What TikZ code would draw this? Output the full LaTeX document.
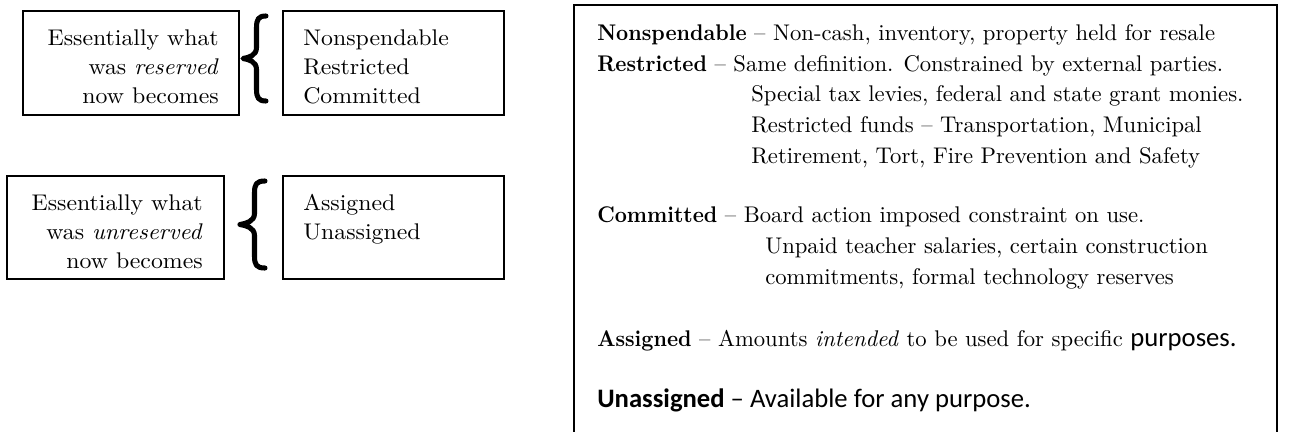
\documentclass[tikz,border=0pt]{standalone}
\usepackage{fontspec}
\newfontfamily\calibri{Carlito}
% book face for the definitions, slightly condensed bold for the terms
\newfontfamily\defreg{lmroman10-regular.otf}[ItalicFont=lmroman10-italic.otf]
\newfontfamily\defbold{lmroman10-bold.otf}[FakeStretch=0.93]
\newfontfamily\sidefont{lmroman10-regular.otf}[FakeStretch=1.05, ItalicFont=lmroman10-italic.otf]
\newcommand\bigtext{\defreg\fontsize{17}{23}\selectfont}
\newcommand\sidetext{\sidefont\fontsize{17}{21.75}\selectfont}
\newcommand\termname[1]{{\defbold #1}}
\newcommand\drawcurly[4]{% x of tip, x of ends, y top, y bottom
  \pgfmathsetmacro\cm{(#3+#4)/2}
  \pgfmathsetmacro\sx{(#1+#2)/2+2}
  \draw[bracestroke] (#2,#3) .. controls (\sx+2,#3) and (\sx,#3+3) .. (\sx,#3+12)
    -- (\sx,\cm-11) .. controls (\sx,\cm-3) and (#1+6,\cm-1) .. (#1,\cm)
    .. controls (#1+6,\cm+1) and (\sx,\cm+3) .. (\sx,\cm+11)
    -- (\sx,#4-12) .. controls (\sx,#4-3) and (\sx+2,#4) .. (#2,#4);
}
\begin{document}
\begin{tikzpicture}[x=0.75pt,y=-0.75pt,
  box/.style={draw, line width=1.5pt, inner sep=0pt},
  bracestroke/.style={line width=3.8pt, line cap=round, line join=round},
  sidelines/.style={inner sep=0pt, font=\sidetext},
  deflines/.style={inner sep=0pt, anchor=base west, font=\bigtext}]
\useasboundingbox (0,0) rectangle (1289,432);

% left column: old categories and the new ones they turn into
\node[box, minimum width=216*0.75pt, minimum height=104*0.75pt] (oldres) at (131,63) {};
\node[box, minimum width=221*0.75pt, minimum height=104*0.75pt] (newres) at (393.5,63) {};
\node[box, minimum width=217*0.75pt, minimum height=103*0.75pt] (oldunres) at (115.5,227.5) {};
\node[box, minimum width=221*0.75pt, minimum height=103*0.75pt] (newunres) at (393.5,227.5) {};

% multi-line texts are placed by the baseline of their last line
\node[sidelines, anchor=base east, align=right] (oldrestext) at (219,103)
  {Essentially what\\was \textit{reserved}\\now becomes};
\node[sidelines, anchor=base west, align=left] (newrestext) at (303,103)
  {Nonspendable\\Restricted\\Committed};
\node[sidelines, anchor=base east, align=right] (oldunrestext) at (203,268)
  {Essentially what\\was \textit{unreserved}\\now becomes};
\node[sidelines, anchor=base west, align=left] (newunrestext) at (303,239)
  {Assigned\\Unassigned};

\drawcurly{243}{266}{16}{101}
\drawcurly{240}{265}{181}{268}

% definitions panel, open at the bottom
\draw[line width=1.5pt] (574,445) -- (574,5) -- (1277,5) -- (1277,445);

\node[deflines] (d1) at (597,40) {\termname{Nonspendable} – Non-cash, inventory, property held for resale};
\node[deflines] (d2) at (597,71) {\termname{Restricted} – Same definition. Constrained by external parties.};
\node[deflines] (d3) at (751,101) {Special tax levies, federal and state grant monies.};
\node[deflines] (d4) at (751,132) {Restricted funds – Transportation, Municipal};
\node[deflines] (d5) at (751,163) {Retirement, Tort, Fire Prevention and Safety};
\node[deflines] (d6) at (597,222) {\termname{Committed} – Board action imposed constraint on use.};
\node[deflines] (d7) at (765,253) {Unpaid teacher salaries, certain construction};
\node[deflines] (d8) at (765,284) {commitments, formal technology reserves};
\node[deflines] (d9) at (597,346) {\termname{Assigned} – Amounts \textit{intended} to be used for specific {\calibri\fontsize{20}{23}\selectfont purposes.}};
\node[deflines] (d10) at (597,407) {{\calibri\fontsize{20}{23}\selectfont\bfseries Unassigned\mdseries{} – Available for any purpose.}};
\end{tikzpicture}
\end{document}
